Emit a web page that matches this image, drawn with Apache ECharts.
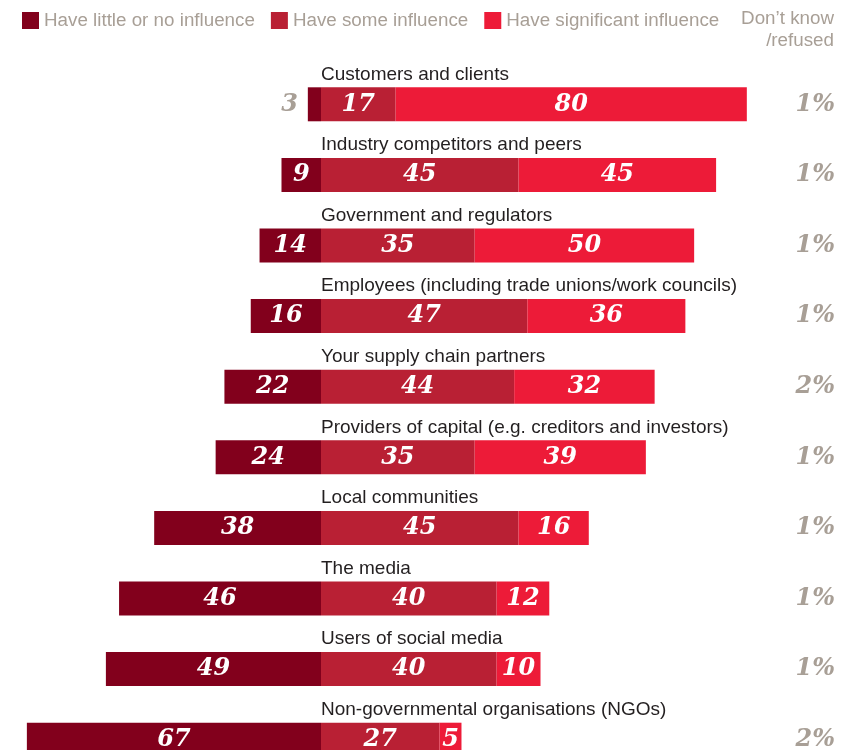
<!DOCTYPE html>
<html>
<head>
<meta charset="utf-8">
<style>
  html, body { margin: 0; padding: 0; background: #fff; }
  #chart { width: 859px; height: 750px; }
</style>
<script src="https://cdn.jsdelivr.net/npm/echarts@6/dist/echarts.min.js"></script>
</head>
<body>
<div id="chart"></div>
<script>
var categories = [
  'Customers and clients',
  'Industry competitors and peers',
  'Government and regulators',
  'Employees (including trade unions/work councils)',
  'Your supply chain partners',
  'Providers of capital (e.g. creditors and investors)',
  'Local communities',
  'The media',
  'Users of social media',
  'Non-governmental organisations (NGOs)'
]
var littleInfluence = [3, 9, 14, 16, 22, 24, 38, 46, 49, 67]
var someInfluence = [17, 45, 35, 47, 44, 35, 45, 40, 40, 27]
var significantInfluence = [80, 45, 50, 36, 32, 39, 16, 12, 10, 5]
var dontKnow = [1, 1, 1, 1, 2, 1, 1, 1, 1, 2]

var gray = '#a89f96'
var valueFont = {
  fontFamily: 'DejaVu Serif',
  fontStyle: 'italic',
  fontWeight: 'bold',
  fontSize: 24
}

var chart = echarts.init(document.getElementById('chart'))

function segLabel() {
  return Object.assign({
    show: true,
    position: 'inside',
    color: '#fff',
    formatter: function (p) { return Math.abs(p.value) }
  }, valueFont)
}

// small values don't fit inside the bar, put them left in gray
var littleData = littleInfluence.map(function (v) {
  var item = { value: -v }
  if (v < 5) {
    item.label = { position: 'left', color: gray, distance: 10 }
  }
  return item
})

chart.setOption({
  backgroundColor: '#fff',
  textStyle: { fontFamily: 'Liberation Sans' },
  legend: {
    left: 22,
    top: 11,
    padding: 0,
    icon: 'rect',
    itemWidth: 17,
    itemHeight: 17,
    itemGap: 16,
    selectedMode: false,
    textStyle: { color: gray, fontSize: 18.8, fontFamily: 'Liberation Sans' },
    data: ['Have little or no influence', 'Have some influence', 'Have significant influence']
  },
  graphic: [{
    type: 'text',
    x: 834,
    y: 8,
    style: {
      text: 'Don\u2019t know\n/refused',
      align: 'right',
      fill: gray,
      fontSize: 18.8,
      lineHeight: 22,
      fontFamily: 'Liberation Sans'
    }
  }],
  grid: {
    left: 13.7,
    width: 746.3,
    top: 69,
    height: 706,
    outerBoundsMode: 'none'
  },
  xAxis: {
    type: 'value',
    min: -70,
    max: 100,
    show: false
  },
  yAxis: [{
    type: 'category',
    inverse: true,
    data: categories,
    offset: -307.3,
    axisLine: { show: false },
    axisTick: { show: false },
    axisLabel: {
      inside: true,
      margin: 0,
      color: '#231f20',
      fontSize: 19,
      lineHeight: 20,
      verticalAlign: 'bottom',
      padding: [0, 0, 20, 0],
      fontFamily: 'Liberation Sans'
    }
  }, {
    type: 'category',
    inverse: true,
    position: 'right',
    data: dontKnow.map(function (v) { return v + '%' }),
    axisLine: { show: false, onZero: false },
    axisTick: { show: false },
    axisLabel: Object.assign({
      margin: 75,
      align: 'right',
      color: gray
    }, valueFont)
  }],
  series: [{
    name: 'Have little or no influence',
    type: 'bar',
    stack: 'total',
    barWidth: 34,
    itemStyle: { color: '#82001c' },
    label: segLabel(),
    data: littleData
  }, {
    name: 'Have some influence',
    type: 'bar',
    stack: 'total',
    barWidth: 34,
    itemStyle: { color: '#b92034' },
    label: segLabel(),
    data: someInfluence
  }, {
    name: 'Have significant influence',
    type: 'bar',
    stack: 'total',
    barWidth: 34,
    itemStyle: { color: '#ed1b38' },
    label: segLabel(),
    data: significantInfluence
  }]
})
</script>
</body>
</html>
